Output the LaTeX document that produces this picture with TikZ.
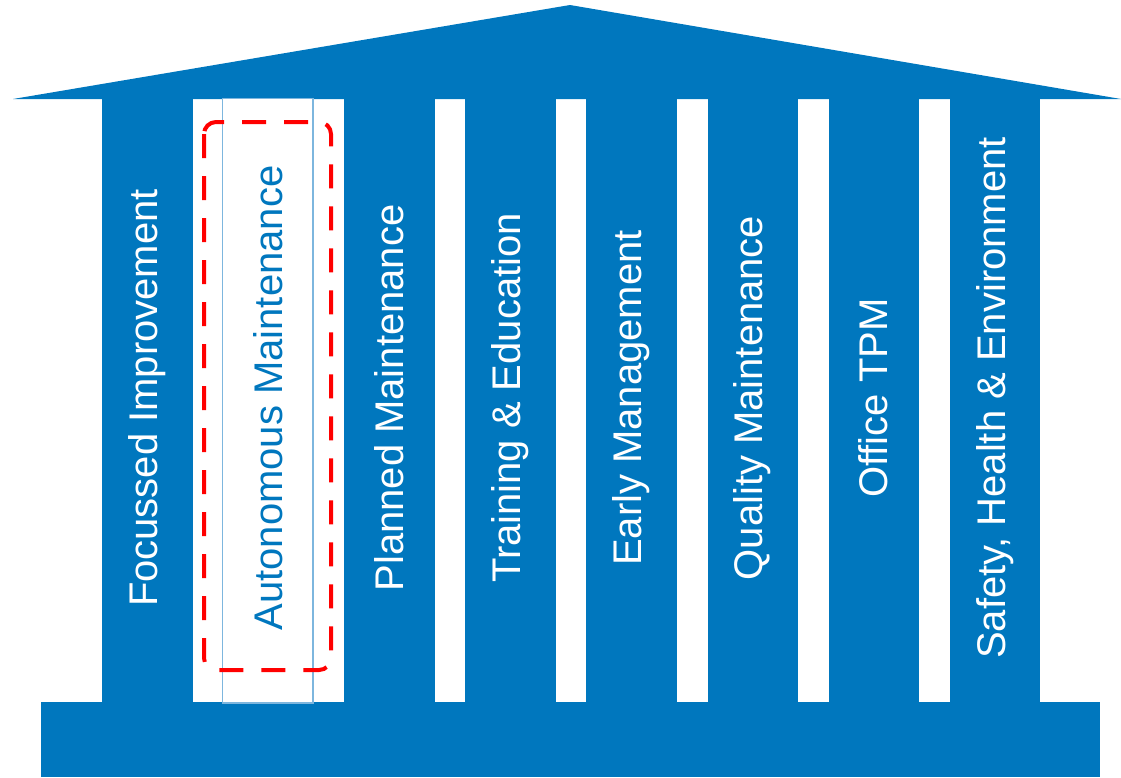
\documentclass[tikz,border=0pt]{standalone}
\usepackage{fontspec}
\setmainfont{Liberation Sans}
\definecolor{tpmblue}{RGB}{0,119,190}
\definecolor{lightline}{RGB}{125,182,222}
\tikzset{
  pillar/.style={fill=tpmblue, draw=none},
  label/.style={rotate=90, text=white, font=\fontsize{40}{48}\selectfont, inner sep=0pt, anchor=center},
  hilite/.style={draw=red, line width=4pt, dash pattern=on 24pt off 18pt, rounded corners=12pt}
}
\begin{document}
\begin{tikzpicture}[x=1pt,y=-1pt]
\useasboundingbox (0,0) rectangle (1121,777);
% roof
\fill[tpmblue] (13,99) -- (570,5) -- (1121,99) -- cycle;
% base
\fill[tpmblue] (41,702) rectangle (1100,777);
% pillars
\foreach \i/\n in {1/p1,3/p3,4/p4,5/p5,6/p6,7/p7,8/p8}{
  \path[pillar] ({102+121.1*(\i-1)},98) rectangle ({102+121.1*(\i-1)+90.5},702.5);
}
\path[draw=lightline, line width=1.5pt, fill=white] (222.5,98.5) rectangle (313,703) node[pos=0.5, name=p2] {};
% labels
\node[label] (t1) at (147,398) {Focussed Improvement};
\node[label, text=tpmblue] (t2) at (268,398) {Autonomous Maintenance};
\node[label] (t3) at (389,398) {Planned Maintenance};
\node[label] (t4) at (510,398) {Training \& Education};
\node[label] (t5) at (631,398) {Early Management};
\node[label] (t6) at (752,398) {Quality Maintenance};
\node[label] (t7) at (873,398) {Office TPM};
\node[label] (t8) at (995,398) {Safety, Health \& Environment};
% highlight
\draw[hilite] (204,122) rectangle (331,670);
\end{tikzpicture}
\end{document}
